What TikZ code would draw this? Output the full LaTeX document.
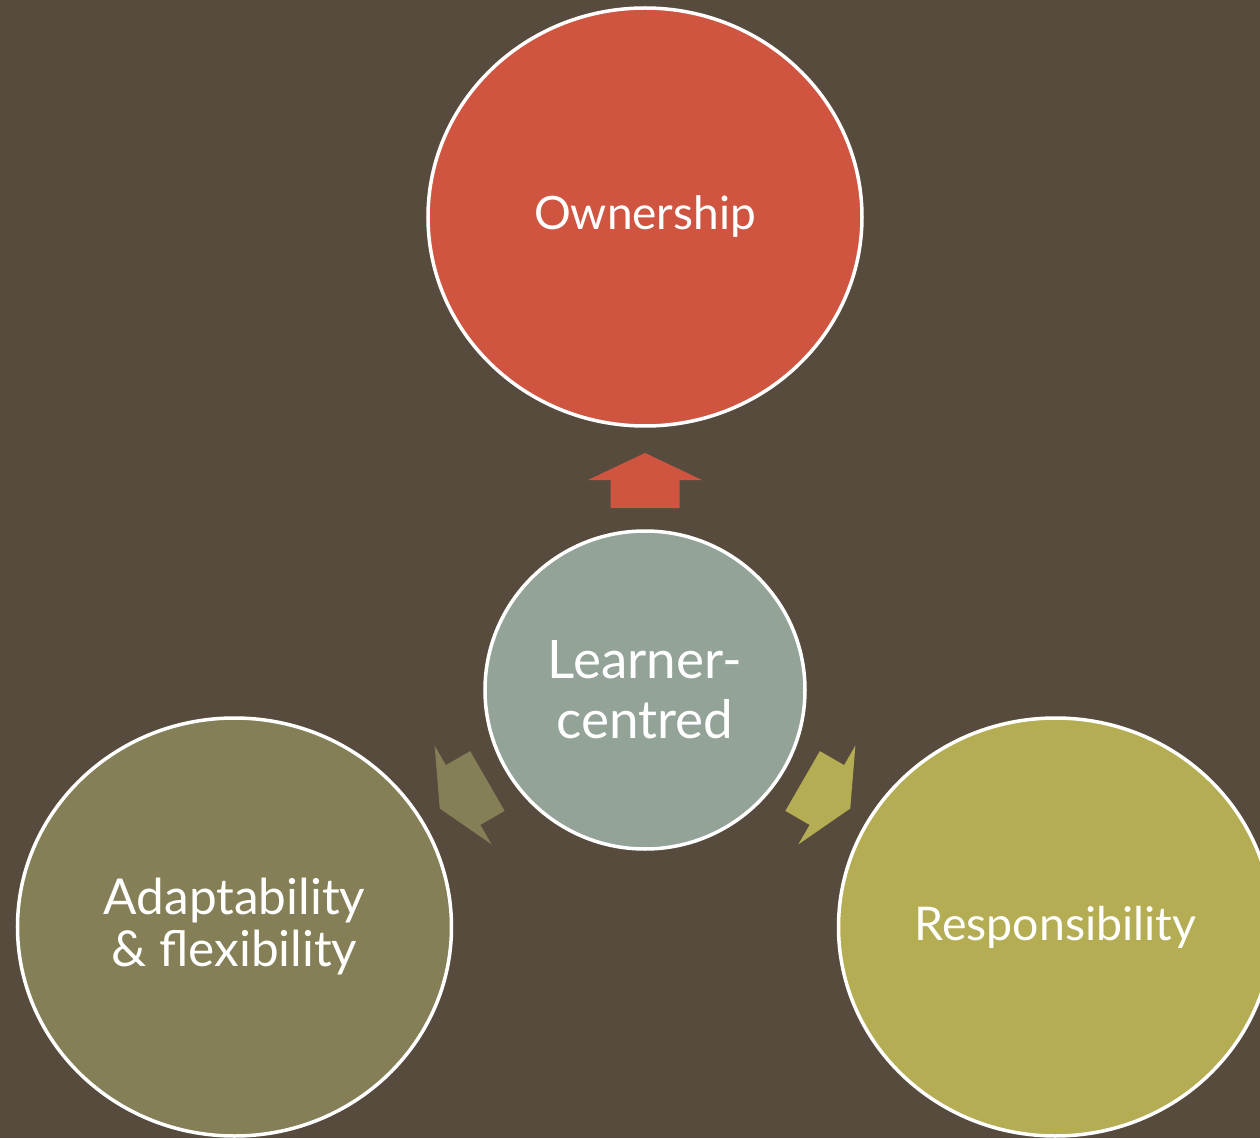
\documentclass[tikz,border=0pt]{standalone}
\usepackage{fontspec}
\setmainfont{Lato}
\usetikzlibrary{shapes.geometric}

\definecolor{bgbrown}{RGB}{87,75,62}
\definecolor{ownred}{RGB}{207,85,65}
\definecolor{sage}{RGB}{148,163,152}
\definecolor{olive}{RGB}{132,127,87}
\definecolor{mustard}{RGB}{181,173,84}

\begin{document}
\begin{tikzpicture}[
  x=1pt, y=1pt,
  every node/.style={ellipse, draw=white, line width=3.5pt, text=white, align=center, inner sep=0pt},
  bigcircle/.style={minimum width=434pt, minimum height=418pt},
]

% Background
\useasboundingbox (-645,-448) rectangle (615,690);
\fill[bgbrown] (-645,-448) rectangle (615,690);
\clip (-645,-448) rectangle (615,690);

% Nodes
\node (centre) [fill=sage, minimum width=320pt, minimum height=318pt, font=\fontsize{53}{60}\selectfont] at (0,0) {Learner-\\centred};
\node (owner)  [bigcircle, fill=ownred, font=\fontsize{46}{52}\selectfont] at (90:473) {Ownership};
\node (adapt)  [bigcircle, fill=olive, font=\fontsize{49.5}{52}\selectfont] at (210:474) {Adaptability\\\& flexibility};
\node (resp)   [bigcircle, fill=mustard, font=\fontsize{46.5}{52}\selectfont] at (330:474) {Responsibility};

% Arrows
\foreach \ang/\col in {90/ownred, 210/olive, 330/mustard}
  \fill[\col, shift={(centre.center)}, rotate=\ang]
    (182,-34.5) -- (210,-34.5) -- (210,-57) -- (237,0) -- (210,57) -- (210,34.5) -- (182,34.5) -- cycle;

\end{tikzpicture}
\end{document}
